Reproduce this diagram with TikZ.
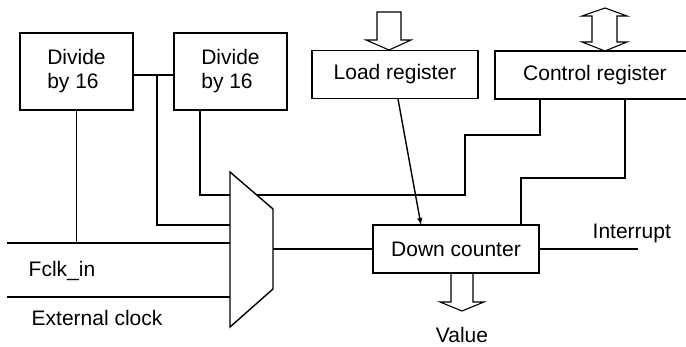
\documentclass[tikz,border=0pt]{standalone}
\usepackage{fontspec}
\setmainfont{Liberation Sans}
\begin{document}
\begin{tikzpicture}[x=1pt, y=-1pt, line width=1.4pt,
    blk/.style={draw, minimum width=166pt, minimum height=48pt, inner sep=0pt},
    divblk/.style={draw, minimum width=113pt, minimum height=77pt, inner sep=0pt, align=left},
    lbl/.style={inner sep=0pt, anchor=west}]
  \fontsize{21}{24}\selectfont
  \useasboundingbox (0,0) rectangle (686,347);
  % boxes
  \node (div1) [divblk] at (76.5,71.5) {Divide\\by 16};
  \node (div2) [divblk] at (230.5,71.5) {Divide\\by 16};
  \node (load) [blk] at (395,74.5) {Load register};
  \node (ctrl) [blk, minimum width=200pt] at (595,75) {Control register};
  \node (down) [blk] at (456,249) {Down counter};
  % multiplexer
  \coordinate (mtl) at (230,172);
  \coordinate (mtr) at (273,209);
  \coordinate (mbr) at (273,289);
  \coordinate (mbl) at (230,327);
  \draw (mtl) -- (mtr) -- (mbr) -- (mbl) -- cycle;
  \coordinate (mout) at (273,249);
  \coordinate (msel) at (256.7,195);
  % divider chain
  \coordinate (j1) at (157,75);
  \coordinate (d2o) at (200,110);
  \draw (div1.east |- j1) -- (div2.west |- j1);
  \draw (j1) |- (mtl |- 0,225);
  \draw (d2o) |- (mtl |- 0,195);
  % clock inputs
  \coordinate (fclk) at (7,243);
  \coordinate (ext) at (7,297);
  \draw (fclk) -- (fclk -| mtl);
  \draw (ext) -- (ext -| mtl);
  \draw (div1.south) -- (div1.south |- fclk);
  \node (fclkl) [lbl] at (28,271) {Fclk\_in};
  \node (extl) [lbl] at (31,318) {External clock};
  % select from control register
  \coordinate (c1) at (540,99);
  \draw (msel) -- (465,195) |- (540,135) -- (c1);
  % mux to counter
  \draw (mout) -- (down.west);
  % load register to counter
  \coordinate (lo) at (398,99);
  \coordinate (di) at (421,225);
  \draw[-latex] (lo) -- (di);
  % control register to counter
  \coordinate (c2) at (625,99);
  \coordinate (dc) at (521,225);
  \draw (c2) |- (dc |- 0,178) -- (dc);
  % interrupt
  \coordinate (irq) at (638,249);
  \draw (down.east) -- (irq);
  \node (irql) [lbl] at (592,233) {Interrupt};
  % block arrows
  \draw[line width=1.1pt] (377,12) -- (401,12) -- (401,40) -- (411,40) -- (389,50)
    -- (366,40) -- (377,40) -- cycle;
  \draw[line width=1.1pt] (605,8) -- (627,16) -- (617,16) -- (617,42) -- (627,42)
    -- (605,51) -- (582,42) -- (592,42) -- (592,16) -- (582,16) -- cycle;
  \draw[line width=1.1pt] (451,273) -- (451,302) -- (440,302) -- (462,311)
    -- (484,302) -- (473,302) -- (473,273);
  \node (val) at (462,335) {Value};
\end{tikzpicture}
\end{document}
